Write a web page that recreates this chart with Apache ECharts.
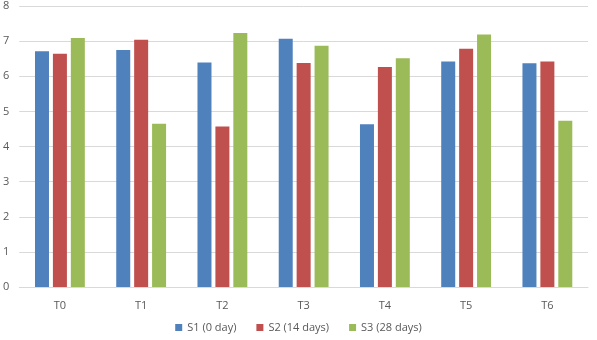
<!DOCTYPE html>
<html>
<head>
<meta charset="utf-8">
<script src="https://cdn.jsdelivr.net/npm/echarts@6/dist/echarts.min.js"></script>
<style>
  html, body { margin: 0; padding: 0; background: #fff; }
  #chart { width: 597px; height: 340px; }
</style>
</head>
<body>
<div id="chart"></div>
<script>
// categories and values
var categories = ['T0', 'T1', 'T2', 'T3', 'T4', 'T5', 'T6'];
var s1 = [6.71, 6.75, 6.39, 7.07, 4.63, 6.42, 6.37];
var s2 = [6.64, 7.04, 4.57, 6.38, 6.26, 6.78, 6.42];
var s3 = [7.09, 4.65, 7.23, 6.87, 6.51, 7.19, 4.73];
var seriesNames = ['S1 (0 day)', 'S2 (14 days)', 'S3 (28 days)'];
var colors = ['#4F81BD', '#C0504D', '#9BBB59'];

var chart = echarts.init(document.getElementById('chart'));

function makeBar(name, data, color) {
    return {
        name: name,
        type: 'bar',
        data: data,
        barWidth: 14,
        barGap: '28%',
        itemStyle: { color: color },
        animation: false
    };
}

var option = {
    animation: false,
    textStyle: { fontFamily: 'Open Sans', color: '#595959' },
    grid: { left: 19, right: 9, top: 6, bottom: 53, containLabel: false },
    legend: {
        bottom: 2,
        left: 'center',
        itemWidth: 7,
        itemHeight: 7,
        itemGap: 20,
        icon: 'rect',
        textStyle: { fontSize: 11, color: '#595959' },
        data: seriesNames
    },
    xAxis: {
        type: 'category',
        data: categories,
        axisLine: { lineStyle: { color: '#d9d9d9' } },
        axisTick: { show: false },
        axisLabel: { fontSize: 11, color: '#595959', margin: 13 }
    },
    yAxis: {
        type: 'value',
        min: 0,
        max: 8,
        interval: 1,
        axisLine: { show: false },
        axisTick: { show: false },
        axisLabel: { fontSize: 11, color: '#595959', margin: 10 },
        splitLine: { lineStyle: { color: '#d9d9d9' } }
    },
    series: [
        makeBar(seriesNames[0], s1, colors[0]),
        makeBar(seriesNames[1], s2, colors[1]),
        makeBar(seriesNames[2], s3, colors[2])
    ]
};

chart.setOption(option);
</script>
</body>
</html>
